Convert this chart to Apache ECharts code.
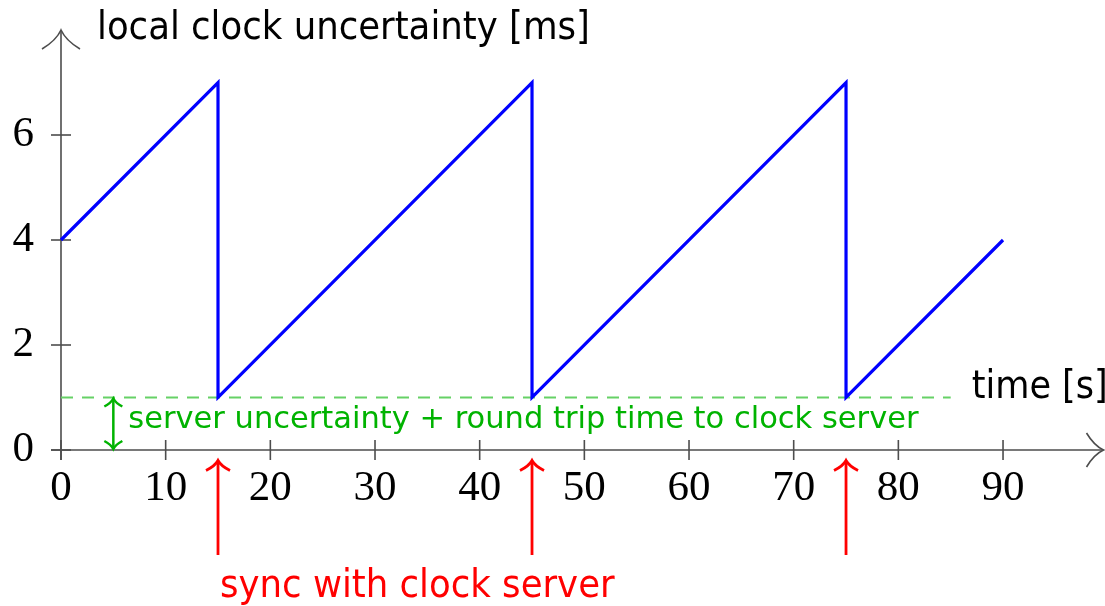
<!DOCTYPE html>
<html>
<head>
<meta charset="utf-8">
<script src="https://cdn.jsdelivr.net/npm/echarts@6/dist/echarts.min.js"></script>
<style>
html,body{margin:0;padding:0;background:#fff;}
#chart{width:1105px;height:606px;}
</style>
</head>
<body>
<div id="chart"></div>
<script>
// ---- data ----
const xTickValues = [0, 10, 20, 30, 40, 50, 60, 70, 80, 90];
const yTickValues = [0, 2, 4, 6];
const timeS = [0, 15, 15, 45, 45, 75, 75, 90];
const uncertaintyMs = [4, 7, 1, 7, 1, 7, 1, 4];
const syncTimes = [15, 45, 75];
const serverUncertaintyMs = 1;
const dashedLineEnd = 85;
const yAxisTitle = 'local clock uncertainty [ms]';
const xAxisTitle = 'time [s]';
const greenNote = 'server uncertainty + round trip time to clock server';
const redNote = 'sync with clock server';

const SANS = '"DejaVu Sans Condensed", "DejaVu Sans", sans-serif';
const SANS_WIDE = '"DejaVu Sans", sans-serif';
const SERIF = '"Liberation Serif", "DejaVu Serif", serif';
const AXIS_COLOR = '#4d4d4d';
const GREEN = '#00b300';
const RED = '#ff0000';

function chevron(x, y, dir, w, h) {
  let pts;
  if (dir === 'up') {
    pts = [[x - w, y + h], [x - w * 0.25, y + h * 0.55], [x, y], [x + w * 0.25, y + h * 0.55], [x + w, y + h]];
  } else if (dir === 'down') {
    pts = [[x - w, y - h], [x - w * 0.25, y - h * 0.55], [x, y], [x + w * 0.25, y - h * 0.55], [x + w, y - h]];
  } else {
    pts = [[x - h, y - w], [x - h * 0.55, y - w * 0.25], [x, y], [x - h * 0.55, y + w * 0.25], [x - h, y + w]];
  }
  return pts;
}
function chevronPath(p) {
  return 'M' + p[0][0] + ' ' + p[0][1] + ' Q' + p[1][0] + ' ' + p[1][1] + ' ' + p[2][0] + ' ' + p[2][1] +
    ' Q' + p[3][0] + ' ' + p[3][1] + ' ' + p[4][0] + ' ' + p[4][1];
}

const chart = echarts.init(document.getElementById('chart'));

const mainData = timeS.map((t, i) => [t, uncertaintyMs[i]]);

const option = {
  animation: false,
  backgroundColor: '#ffffff',
  grid: { left: 61, top: 30, width: 1046.7, height: 420, containLabel: false, outerBoundsMode: 'none' },
  xAxis: {
    type: 'value', min: 0, max: 100, interval: 10,
    axisLine: { show: false }, axisTick: { show: false }, splitLine: { show: false },
    axisLabel: {
      margin: 17, color: '#000', fontFamily: SERIF, fontSize: 43,
      formatter: v => xTickValues.includes(v) ? String(v) : ''
    }
  },
  yAxis: {
    type: 'value', min: 0, max: 8, interval: 2,
    axisLine: { show: false }, axisTick: { show: false }, splitLine: { show: false },
    axisLabel: {
      margin: 27, color: '#000', fontFamily: SERIF, fontSize: 43,
      formatter: v => yTickValues.includes(v) ? String(v) : ''
    }
  },
  series: [
    {
      type: 'custom', clip: false, z: 1, silent: true,
      data: [[0, 0]],
      renderItem: function (params, api) {
        const o = api.coord([0, 0]);
        const xEnd = api.coord([99.6, 0]);
        const yEnd = api.coord([0, 8]);
        const children = [];
        const ls = { stroke: AXIS_COLOR, lineWidth: 1.6, fill: null };
        children.push({ type: 'line', shape: { x1: o[0] - 10, y1: o[1], x2: xEnd[0], y2: o[1] }, style: ls });
        children.push({ type: 'line', shape: { x1: o[0], y1: o[1] + 10, x2: o[0], y2: yEnd[1] }, style: ls });
        xTickValues.forEach(v => {
          const p = api.coord([v, 0]);
          children.push({ type: 'line', shape: { x1: p[0], y1: p[1] - 10, x2: p[0], y2: p[1] + 10 }, style: ls });
        });
        yTickValues.forEach(v => {
          const p = api.coord([0, v]);
          children.push({ type: 'line', shape: { x1: p[0] - 10, y1: p[1], x2: p[0] + 10, y2: p[1] }, style: ls });
        });
        children.push({ type: 'path', shape: { pathData: chevronPath(chevron(o[0], yEnd[1], 'up', 19, 19)) }, style: ls });
        children.push({ type: 'path', shape: { pathData: chevronPath(chevron(xEnd[0], o[1], 'right', 17, 17)) }, style: ls });
        children.push({ type: 'text', style: { text: yAxisTitle, x: o[0] + 36, y: yEnd[1] - 1, fill: '#000', font: '39.5px ' + SANS, textVerticalAlign: 'middle' } });
        const tp = api.coord([dashedLineEnd, serverUncertaintyMs]);
        children.push({ type: 'text', style: { text: xAxisTitle, x: tp[0] + 21, y: tp[1] - 10, fill: '#000', font: '39px ' + SANS, textVerticalAlign: 'middle' } });
        return { type: 'group', children: children };
      }
    },
    {
      type: 'line', z: 2, silent: true,
      data: [[0, serverUncertaintyMs], [dashedLineEnd, serverUncertaintyMs]],
      symbol: 'none',
      lineStyle: { color: '#66d166', width: 2, type: [12, 9] }
    },
    {
      type: 'line', z: 3, silent: true,
      data: mainData, symbol: 'none',
      lineStyle: { color: '#0000ff', width: 3.2, join: 'miter' }
    },
    {
      type: 'custom', clip: false, z: 4, silent: true,
      data: [[5, serverUncertaintyMs]],
      renderItem: function (params, api) {
        const top = api.coord([api.value(0), api.value(1)]);
        const bot = api.coord([api.value(0), 0]);
        const st = { stroke: GREEN, lineWidth: 2.5, fill: null };
        return {
          type: 'group', children: [
            { type: 'line', shape: { x1: top[0], y1: top[1] + 1, x2: bot[0], y2: bot[1] - 1 }, style: st },
            { type: 'path', shape: { pathData: chevronPath(chevron(top[0], top[1] + 1, 'up', 9, 8)) }, style: st },
            { type: 'path', shape: { pathData: chevronPath(chevron(bot[0], bot[1] - 1, 'down', 9, 8)) }, style: st },
            { type: 'text', style: { text: greenNote, x: top[0] + 15, y: (top[1] + bot[1]) / 2 - 4, fill: GREEN, font: '30.5px ' + SANS_WIDE, textVerticalAlign: 'middle' } }
          ]
        };
      }
    },
    {
      type: 'custom', clip: false, z: 4, silent: true,
      data: syncTimes.map(t => [t]),
      encode: { x: 0 },
      renderItem: function (params, api) {
        const tip = api.coord([api.value(0), -0.2]);
        const base = api.coord([api.value(0), -2.0]);
        const st = { stroke: RED, lineWidth: 2.8, fill: null };
        const children = [
          { type: 'line', shape: { x1: base[0], y1: base[1], x2: tip[0], y2: tip[1] + 1 }, style: st },
          { type: 'path', shape: { pathData: chevronPath(chevron(tip[0], tip[1], 'up', 12, 10)) }, style: st }
        ];
        if (params.dataIndex === 0) {
          children.push({ type: 'text', style: { text: redNote, x: base[0] + 2, y: base[1] + 32, fill: RED, font: '39.5px ' + SANS, textVerticalAlign: 'middle' } });
        }
        return { type: 'group', children: children };
      }
    }
  ]
};
chart.setOption(option);
</script>
</body>
</html>
